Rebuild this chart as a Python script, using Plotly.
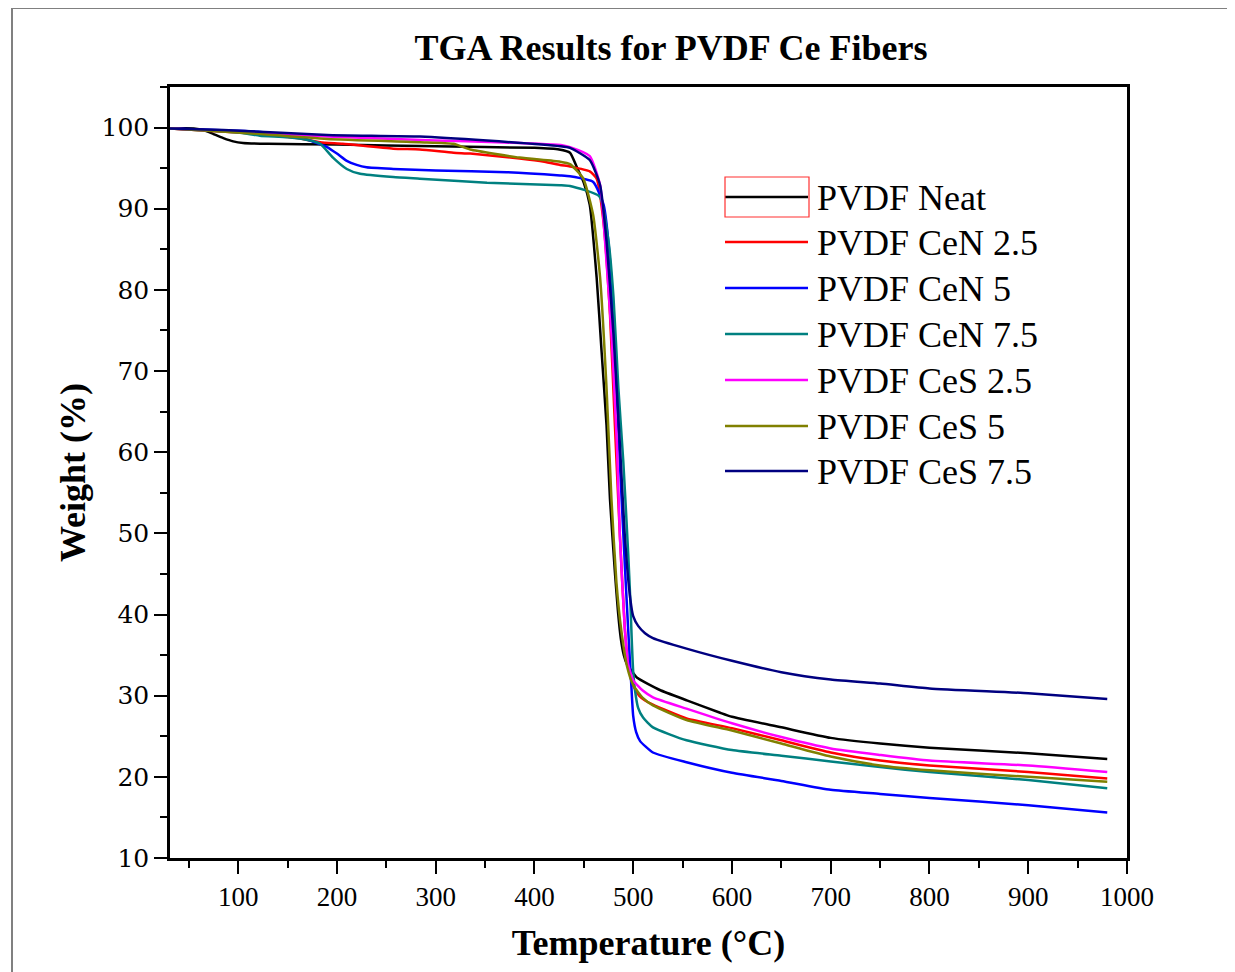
import plotly.graph_objects as go

# ── data (temperature °C, weight %) ───────────────────────────────────────────
T_NEAT = [31, 55, 65, 75, 85, 95, 105, 130, 200, 300, 400, 425, 436, 443, 450,
          456, 463, 468, 473, 476.5, 481.5, 484.5, 487.5, 490.5, 494, 500, 504,
          527, 555, 588, 600, 650, 700, 750, 800, 900, 980]
W_NEAT = [99.9, 99.9, 99.7, 99.2, 98.7, 98.3, 98.1, 98.0, 97.9, 97.7, 97.5, 97.3,
          96.9, 95.1, 93.2, 90.5, 81.5, 72.4, 63.3, 54.2, 45.2, 40.5, 37.0, 35.0,
          33.8, 32.8, 32.2, 30.7, 29.4, 27.9, 27.4, 26.1, 24.8, 24.1, 23.6, 22.9, 22.2]

T_CEN25 = [31, 100, 130, 160, 183, 206, 257, 284, 318, 335, 385, 410, 426, 436,
           456, 463, 470, 476.5, 481.5, 486.5, 491.5, 495, 498, 501, 506, 512,
           520, 554, 600, 650, 700, 750, 800, 900, 980]
W_CEN25 = [99.9, 99.4, 99.1, 98.7, 98.2, 98.0, 97.4, 97.3, 96.9, 96.8, 96.2, 95.8,
           95.4, 95.2, 94.6, 93.7, 88.3, 77.0, 63.3, 49.8, 38.3, 33.8, 32.0, 31.0,
           30.0, 29.4, 28.9, 27.2, 26.0, 24.5, 23.0, 22.0, 21.4, 20.6, 19.8]

T_CEN5 = [31, 120, 150, 163, 175, 190, 200, 210, 220, 230, 257, 300, 372, 426,
          436, 459.5, 470, 476.5, 481.5, 486.5, 492, 495, 498, 500, 503, 507,
          520, 554, 600, 650, 700, 750, 800, 900, 980]
W_CEN5 = [99.9, 99.5, 99.1, 98.8, 98.3, 97.6, 96.8, 95.9, 95.4, 95.1, 94.9, 94.7,
          94.5, 94.1, 94.0, 93.3, 90.5, 83.7, 72.4, 58.7, 45.0, 38.0, 31.5, 27.5,
          25.5, 24.4, 23.0, 21.8, 20.5, 19.5, 18.4, 17.9, 17.4, 16.5, 15.6]

T_CEN75 = [31, 100, 122, 150, 173, 183, 196, 210, 223.5, 257, 284, 352, 426, 436,
           466, 475, 480, 485, 490, 495, 497, 498.5, 500, 502, 505, 510, 520,
           554, 600, 650, 700, 750, 800, 900, 980]
W_CEN75 = [99.9, 99.4, 99.0, 98.8, 98.4, 98.0, 96.3, 94.9, 94.3, 93.9, 93.7, 93.2,
           92.9, 92.8, 91.5, 86.0, 79.2, 67.9, 58.8, 47.4, 42.0, 37.0, 33.0, 30.5,
           28.5, 27.3, 26.1, 24.5, 23.3, 22.6, 21.9, 21.2, 20.6, 19.6, 18.6]

T_CES25 = [31, 100, 190, 300, 362, 429, 436, 456, 466.5, 471.5, 478, 483.5,
           486.5, 491.5, 495, 500, 510, 520, 554, 600, 650, 700, 750, 800,
           900, 980]
W_CES25 = [99.9, 99.5, 98.9, 98.4, 98.2, 97.8, 97.6, 96.5, 92.9, 86.0, 74.6, 61.0,
           49.7, 38.3, 33.8, 31.9, 30.6, 29.8, 28.4, 26.6, 24.9, 23.5, 22.7,
           22.0, 21.4, 20.6]

T_CES5 = [31, 100, 190, 284, 318, 335, 385, 426, 436, 449.5, 459.5, 466.5, 473,
          478, 483, 488, 494, 500, 510, 520, 554, 600, 650, 700, 750, 800, 900, 980]
W_CES5 = [99.9, 99.4, 98.6, 98.2, 98.0, 97.3, 96.3, 95.8, 95.5, 93.7, 89.2, 81.5,
          67.9, 54.2, 44.0, 38.0, 33.5, 31.3, 29.7, 28.8, 27.0, 25.7, 24.1, 22.5,
          21.4, 20.8, 20.0, 19.4]

T_CES75 = [31, 85, 190, 284, 352, 426, 436, 456, 466.5, 473, 480, 486.5, 491.5,
           497, 500, 505, 512, 520, 554, 600, 650, 700, 750, 800, 900, 980]
W_CES75 = [99.9, 99.7, 99.1, 98.9, 98.4, 97.7, 97.5, 96.0, 92.9, 86.0, 74.6, 61.0,
           49.7, 42.0, 39.8, 38.6, 37.7, 37.1, 35.8, 34.3, 32.9, 32.0, 31.5,
           30.9, 30.3, 29.6]

NAMES = ["PVDF Neat", "PVDF CeN 2.5", "PVDF CeN 5", "PVDF CeN 7.5",
         "PVDF CeS 2.5", "PVDF CeS 5", "PVDF CeS 7.5"]
COLORS = ["#000000", "#ff0000", "#0000ff", "#008080",
          "#ff00ff", "#808000", "#000080"]
SERIES = [(T_NEAT, W_NEAT), (T_CEN25, W_CEN25), (T_CEN5, W_CEN5),
          (T_CEN75, W_CEN75), (T_CES25, W_CES25), (T_CES5, W_CES5),
          (T_CES75, W_CES75)]

SERIF = "Liberation Serif"
PAGE_W, PAGE_H = 1235, 972
OFF = 8                            # browser body margin
W, H = PAGE_W - OFF, PAGE_H - OFF
# plot area, in page pixels as measured on the reference
L, R, T, B = 170 - OFF, 1127 - OFF, 87 - OFF, 858 - OFF


def px_x(x):
    return (x - OFF - L) / (R - L)


def px_y(y):
    return (B - (y - OFF)) / (B - T)


fig = go.Figure()
for (tx, wy), name, col in zip(SERIES, NAMES, COLORS):
    fig.add_trace(go.Scatter(
        x=tx, y=wy, mode="lines", name=name,
        line=dict(color=col, width=2.5, shape="spline", smoothing=0.5),
    ))

# hand-made legend so the sample lines are as long as in the original
legend_rows = [197, 242, 288, 334, 380, 426, 471]
shapes, annotations = [], []
for yy, name, col in zip(legend_rows, NAMES, COLORS):
    shapes.append(dict(type="line", xref="paper", yref="paper",
                       x0=px_x(725), x1=px_x(808), y0=px_y(yy), y1=px_y(yy),
                       line=dict(color=col, width=2.5)))
    annotations.append(dict(xref="paper", yref="paper", x=px_x(815), y=px_y(yy + 1),
                            text=name, showarrow=False, xanchor="left",
                            yanchor="middle",
                            font=dict(family=SERIF, size=36, color="black")))
# red selection box round the first legend sample
shapes.append(dict(type="rect", xref="paper", yref="paper",
                   x0=px_x(725), x1=px_x(809), y0=px_y(217), y1=px_y(177),
                   line=dict(color="#ff3030", width=1.2)))
# grey outer frame
shapes.append(dict(type="rect", xref="paper", yref="paper",
                   x0=px_x(12), x1=px_x(1232), y0=px_y(985), y1=px_y(8),
                   line=dict(color="#808080", width=2)))

fig.update_layout(
    width=W, height=H,
    margin=dict(l=L, r=W - R, t=T, b=H - B),
    paper_bgcolor="white", plot_bgcolor="white",
    showlegend=False,
    title=dict(text="<b>TGA Results for PVDF Ce Fibers</b>",
               x=(671 - OFF) / W, xanchor="center", y=1 - (47 - OFF) / H,
               yanchor="middle",
               font=dict(family=SERIF, size=36, color="black")),
    shapes=shapes, annotations=annotations,
)
fig.update_xaxes(
    range=[31, 1000], tick0=0, dtick=100, ticks="outside", ticklen=13,
    tickwidth=2, tickcolor="black",
    minor=dict(dtick=50, ticks="outside", ticklen=7, tickwidth=2, tickcolor="black"),
    showline=True, linewidth=2.5, linecolor="black", mirror=True,
    showgrid=False, zeroline=False,
    tickfont=dict(family=SERIF, size=27, color="black"),
    title=dict(text="<b>Temperature (°C)</b>",
               font=dict(family=SERIF, size=36, color="black"), standoff=19),
)
fig.update_yaxes(
    range=[10, 105], tick0=0, dtick=10, ticks="outside", ticklen=13,
    tickwidth=2, tickcolor="black",
    minor=dict(dtick=5, ticks="outside", ticklen=7, tickwidth=2, tickcolor="black"),
    showline=True, linewidth=2.5, linecolor="black", mirror=True,
    showgrid=False, zeroline=False,
    tickfont=dict(family="DejaVu Serif", size=25, color="black"),
    title=dict(text="<b>Weight (%)</b>",
               font=dict(family=SERIF, size=36, color="black"), standoff=5),
)

fig.write_html("out.html")
